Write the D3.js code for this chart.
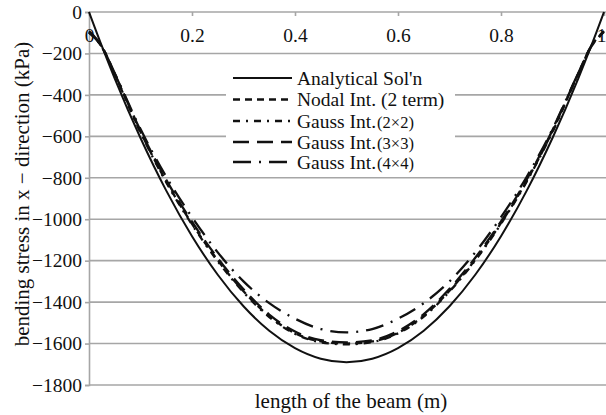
<!DOCTYPE html>
<html>
<head>
<meta charset="utf-8">
<script src="https://cdn.jsdelivr.net/npm/d3@7"></script>
<style>
  html, body { margin: 0; padding: 0; background: #fff; }
  svg { display: block; }
  svg text { font-family: "Liberation Serif", "Times New Roman", serif; }
</style>
</head>
<body>
<svg id="chart" width="606" height="415"></svg>
<script>
// Position along the beam (m)
const positions = [0, 0.025, 0.05, 0.1, 0.15, 0.2, 0.25, 0.3, 0.35, 0.4, 0.45, 0.5,
                   0.55, 0.6, 0.65, 0.7, 0.75, 0.8, 0.85, 0.9, 0.95, 0.975, 1];

// Bending stress in x-direction (kPa) for each solution
const analytical = [0, -165, -321, -608, -862, -1082, -1268, -1420, -1538, -1622, -1673, -1690,
                    -1673, -1622, -1538, -1420, -1268, -1082, -862, -608, -321, -165, 0];
const nodal2 = [-96, -168, -300, -578, -818, -1022, -1198, -1348, -1468, -1550, -1590, -1600,
                -1590, -1548, -1466, -1345, -1195, -1018, -815, -575, -298, -166, -94];
const gauss2 = [-98, -170, -302, -582, -822, -1026, -1203, -1352, -1472, -1553, -1594, -1604,
                -1593, -1551, -1470, -1349, -1199, -1022, -818, -578, -300, -168, -96];
const gauss3 = [-92, -166, -298, -572, -810, -1012, -1188, -1338, -1460, -1542, -1584, -1594,
                -1584, -1540, -1458, -1336, -1186, -1010, -808, -570, -296, -164, -92];
const gauss4 = [-100, -168, -295, -565, -795, -990, -1160, -1300, -1405, -1480, -1530, -1546,
                -1530, -1480, -1405, -1300, -1160, -990, -795, -565, -295, -168, -100];

const xTicks = [0, 0.2, 0.4, 0.6, 0.8, 1];
const yTicks = [0, -200, -400, -600, -800, -1000, -1200, -1400, -1600, -1800];

const seriesNames = ["Analytical Sol'n", "Nodal Int. (2 term)", "Gauss Int.", "Gauss Int.", "Gauss Int."];
const seriesSuffix = ["", "", "(2×2)", "(3×3)", "(4×4)"];
const seriesValues = [analytical, nodal2, gauss2, gauss3, gauss4];
const seriesDash = [null, "7,5", "7,6,2,6", "16,8", "18,8,2,8"];

const svg = d3.select("#chart");
const W = 606;
const serif = '"Liberation Serif", "Times New Roman", serif';

const x = d3.scaleLinear().domain([0, 1]).range([89, 604]);
const y = d3.scaleLinear().domain([-1800, 0]).range([385, 12]);

const gridColor = "#a6a6a6";
const fmt = v => (v < 0 ? "\u2212" + Math.abs(v) : String(v));

// horizontal gridlines
svg.append("g").selectAll("line").data(yTicks.filter(v => v !== 0)).join("line")
  .attr("x1", x(0)).attr("x2", W)
  .attr("y1", d => y(d)).attr("y2", d => y(d))
  .attr("stroke", gridColor).attr("stroke-width", 1.6);

// y axis (left)
const yAxis = svg.append("g").attr("transform", `translate(${x(0)},0)`)
  .call(d3.axisLeft(y).tickValues(yTicks).tickSize(4).tickPadding(3).tickFormat(fmt));
yAxis.attr("font-family", null).attr("font-size", null);
yAxis.select(".domain").attr("stroke", gridColor).attr("stroke-width", 1.6);
yAxis.selectAll(".tick line").attr("stroke", gridColor).attr("stroke-width", 1.6);
yAxis.selectAll("text").style("font-family", serif).style("font-size", "19.5px").attr("fill", "#111");

// x axis along the zero line at the top, labels below it
const xAxis = svg.append("g").attr("transform", `translate(0,${y(0)})`)
  .call(d3.axisBottom(x).tickValues(xTicks).tickSize(4).tickPadding(12)
    .tickFormat(d => d3.format("")(d)));
xAxis.attr("font-family", null).attr("font-size", null);
xAxis.select(".domain").attr("stroke", gridColor).attr("stroke-width", 1.6)
  .attr("d", `M${x(0)},0H${W}`);
xAxis.selectAll(".tick line").attr("stroke", gridColor).attr("stroke-width", 1.6);
xAxis.selectAll("text").style("font-family", serif).style("font-size", "19.5px").attr("fill", "#111");
// keep the last label inside the page edge
xAxis.selectAll("text").filter(d => d === 1).attr("dx", -3);

// legend background hides the gridlines behind it
svg.append("rect").attr("x", 226).attr("y", 66).attr("width", 229).attr("height", 106)
  .attr("fill", "#fff");

// curves
const line = d3.line()
  .x((d, i) => x(positions[i]))
  .y(d => y(d))
  .curve(d3.curveMonotoneX);

svg.append("g").selectAll("path").data(seriesValues).join("path")
  .attr("d", d => line(d))
  .attr("fill", "none")
  .attr("stroke", "#111")
  .attr("stroke-width", (d, i) => i === 0 ? 2 : 2.3)
  .attr("stroke-dasharray", (d, i) => seriesDash[i]);

// legend
const leg = svg.append("g");
const rowY = [78, 99.5, 121, 142, 162];
seriesNames.forEach((name, i) => {
  leg.append("line")
    .attr("x1", 233).attr("x2", 292)
    .attr("y1", rowY[i]).attr("y2", rowY[i])
    .attr("stroke", "#111").attr("stroke-width", i === 0 ? 2 : 2.4)
    .attr("stroke-dasharray", seriesDash[i]);
  const t = leg.append("text")
    .attr("x", 297).attr("y", rowY[i] + 6.5)
    .style("font-size", "19.5px").attr("fill", "#111")
    .text(name);
  if (seriesSuffix[i]) {
    t.append("tspan").style("font-size", "16.5px").attr("dx", 1).text(seriesSuffix[i]);
  }
});

// axis titles
svg.append("text")
  .attr("x", 351).attr("y", 408)
  .attr("text-anchor", "middle").style("font-size", "21px").attr("fill", "#111")
  .text("length of the beam (m)");

svg.append("text")
  .attr("transform", "translate(29,194) rotate(-90)")
  .attr("text-anchor", "middle").style("font-size", "21px").attr("fill", "#111")
  .text("bending stress in x \u2212 direction (kPa)");
</script>
</body>
</html>
